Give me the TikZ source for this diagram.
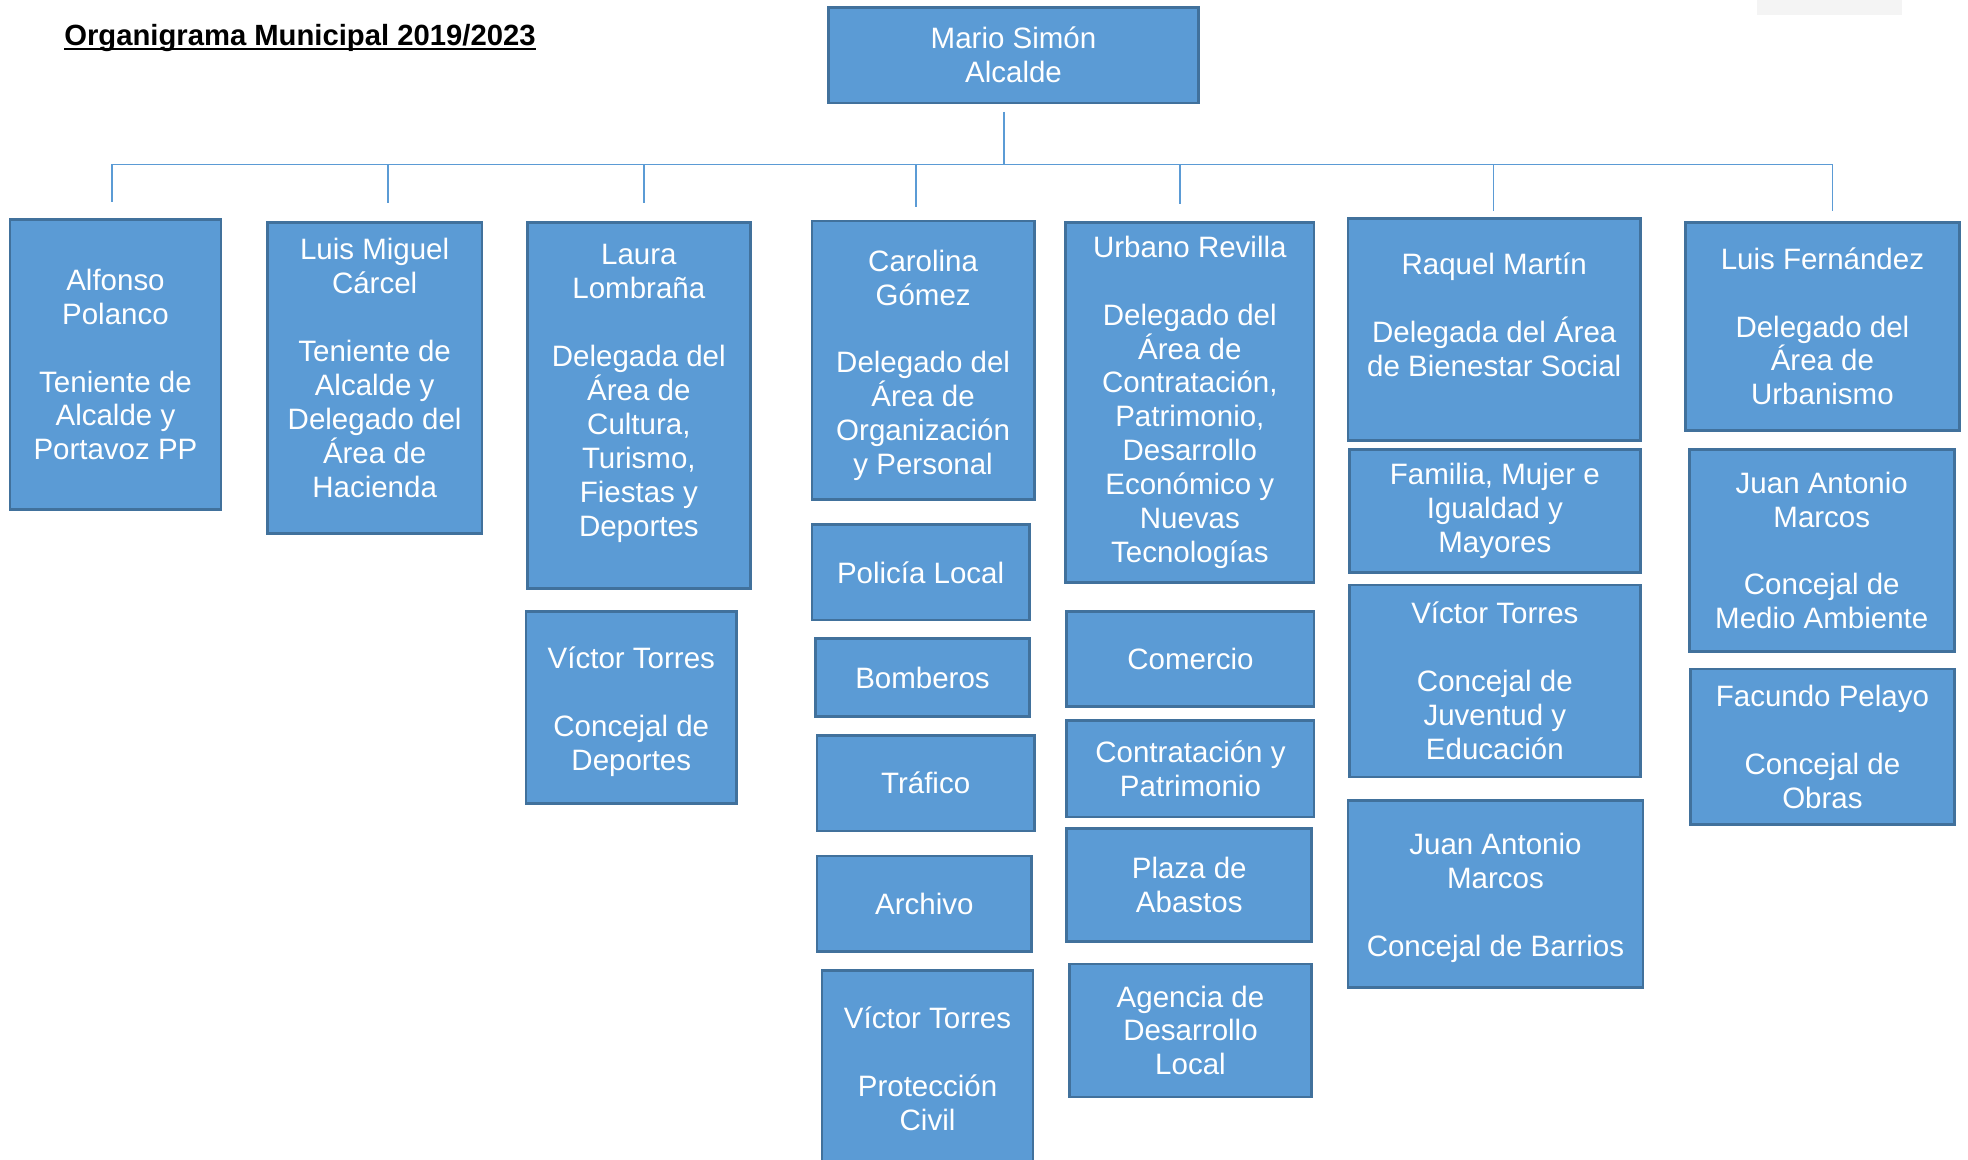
\documentclass[tikz,border=0pt]{standalone}
\usepackage{fontspec}
\setmainfont{Liberation Sans}
\definecolor{boxfill}{HTML}{5B9BD5}
\definecolor{boxline}{HTML}{41719C}
\definecolor{connblue}{HTML}{5B9BD5}
\definecolor{greypatch}{HTML}{F4F4F4}
\newcommand\lowr[1]{\rule[-#1pt]{0pt}{0pt}}
\newcommand\highr[1]{\rule{0pt}{#1pt}}
\newcommand\orgbox[6]{%
  \node[box, minimum width={(#4-#2)*1pt}, minimum height={(#5-#3)*1pt}]
    (#1) at ({(#2+#4)/2},{(#3+#5)/2}) {#6};}
\begin{document}
\begin{tikzpicture}[x=1pt,y=-1pt,
  box/.style={draw=boxline, line width=2.2pt, fill=boxfill, text=white,
    font=\fontsize{23.5}{27}\selectfont, align=center, inner sep=0pt},
  conn/.style={draw=connblue, line width=1.4pt},
  titletext/.style={font=\fontsize{23.3}{27}\selectfont\bfseries, anchor=base west, inner sep=0pt}]
\useasboundingbox (0,0) rectangle (1568,924);
\fill[white] (0,0) rectangle (1568,924);
\clip (0,0) rectangle (1568,924);
\fill[greypatch] (1400,0) rectangle (1515,12);

\node[titletext] (title) at (51,36) {Organigrama Municipal 2019/2023};
\draw[line width=1.4pt] ([yshift=-3pt]title.base west) -- ([yshift=-3pt]title.base east);

\orgbox{top}{660}{6}{955}{82}{Mario Simón\\Alcalde}

\orgbox{a1}{8}{175}{176}{406}{Alfonso\\Polanco\\[27pt]Teniente de\\Alcalde y\\Portavoz PP}
\orgbox{a2}{213}{177}{384}{425}{Luis Miguel\\Cárcel\\[27pt]Teniente de\\Alcalde y\\Delegado del\\Área de\\Hacienda\lowr{16}}
\orgbox{a3}{420}{177}{598}{469}{Laura\\Lombraña\\[27pt]Delegada del\\Área de\\Cultura,\\Turismo,\\Fiestas y\\Deportes\lowr{24}}
\orgbox{a4}{647}{176}{824}{398}{\highr{25}Carolina\\Gómez\\[27pt]Delegado del\\Área de\\Organización\\y Personal}
\orgbox{a5}{849}{177}{1047}{464}{Urbano Revilla\\[27pt]Delegado del\\Área de\\Contratación,\\Patrimonio,\\Desarrollo\\Económico y\\Nuevas\\Tecnologías}
\orgbox{a6}{1074}{174}{1307}{351}{Raquel Martín\\[27pt]Delegada del Área\\de Bienestar Social\lowr{24}}
\orgbox{a7}{1343}{177}{1561}{343}{Luis Fernández\\[27pt]Delegado del\\Área de\\Urbanismo}

\orgbox{b3}{419}{487}{587}{640}{\highr{24}Víctor Torres\\[27pt]Concejal de\\Deportes}

\orgbox{c4}{647}{418}{820}{494}{Policía Local}
\orgbox{d4}{650}{509}{820}{571}{Bomberos}
\orgbox{e4}{651}{586}{824}{662}{Tráfico}
\orgbox{f4}{651}{682}{822}{758}{Archivo}
\orgbox{g4}{655}{773}{823}{930}{Víctor Torres\\[27pt]Protección\\Civil}

\orgbox{c5}{850}{487}{1047}{563}{Comercio}
\orgbox{d5}{850}{574}{1047}{651}{Contratación y\\Patrimonio}
\orgbox{e5}{850}{660}{1045}{750}{Plaza de\\Abastos}
\orgbox{f5}{852}{768}{1045}{874}{Agencia de\\Desarrollo\\Local}

\orgbox{b6}{1075}{358}{1307}{456}{Familia, Mujer e\\Igualdad y\\Mayores}
\orgbox{c6}{1075}{466}{1307}{619}{Víctor Torres\\[27pt]Concejal de\\Juventud y\\Educación}
\orgbox{d6}{1074}{638}{1309}{787}{\highr{23}Juan Antonio\\Marcos\\[27pt]Concejal de Barrios}

\orgbox{b7}{1346}{358}{1557}{519}{Juan Antonio\\Marcos\\[27pt]Concejal de\\Medio Ambiente}
\orgbox{c7}{1347}{533}{1557}{657}{Facundo Pelayo\\[27pt]Concejal de\\Obras}

% connectors
\coordinate (hub) at (800,131);
\draw[conn, shorten <=6pt] (hub |- top.south) -- (hub);
\foreach \i/\x in {1/89,2/309,3/513,4/730,5/940,6/1190,7/1460}
  \coordinate (j\i) at (\x,131);
\draw[conn] (j1) -- (j7);
\foreach \i/\s in {1/13,2/14,3/14,4/10,5/13,6/5,7/8}
  \draw[conn, shorten >=\s pt] (j\i) -- (j\i |- a\i.north);
\end{tikzpicture}
\end{document}
